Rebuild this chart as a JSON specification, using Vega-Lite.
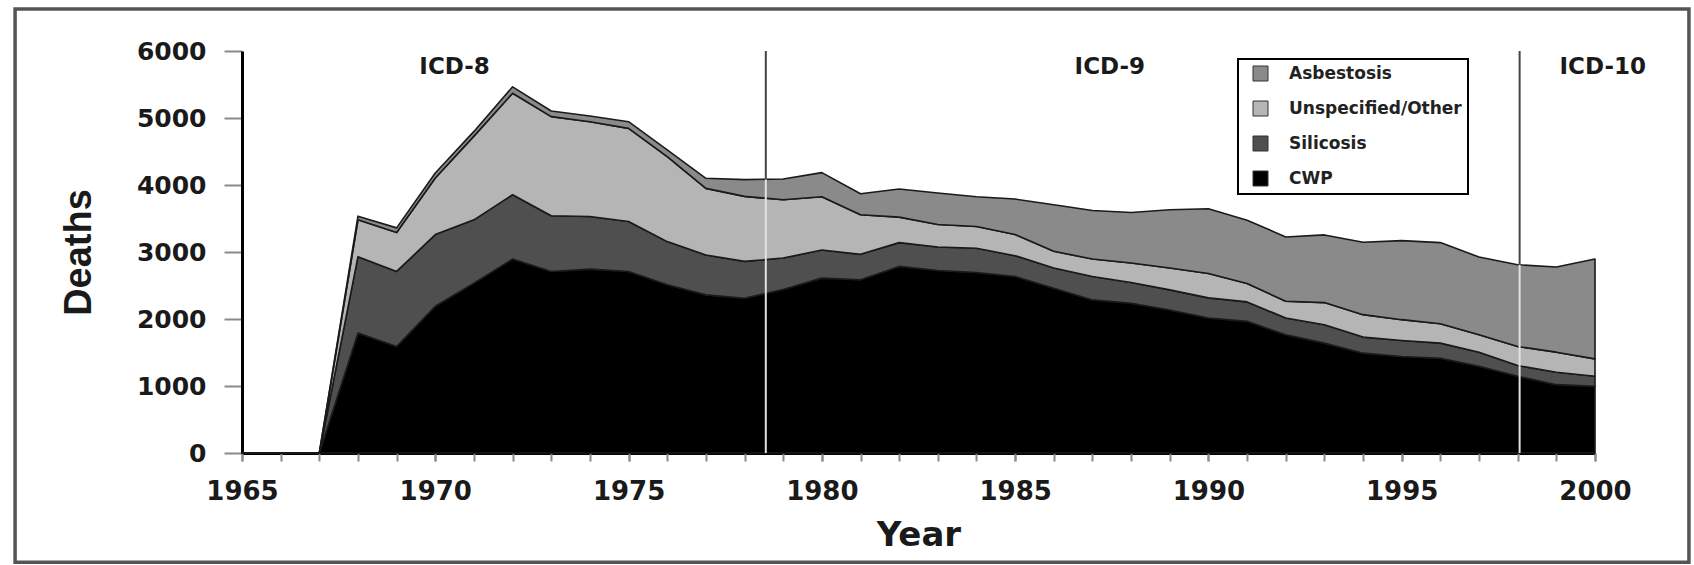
{
  "$schema": "https://vega.github.io/schema/vega-lite/v6.json",
  "width": 1353,
  "height": 402,
  "autosize": {"type": "none"},
  "padding": {"left": 242, "top": 51, "right": 99, "bottom": 112},
  "background": "#ffffff",
  "config": {
    "view": {"stroke": null},
    "font": "DejaVu Sans",
    "legend": {"strokeWidth": 2}
  },
  "resolve": {"axis": {"x": "independent"}},
  "datasets": {
    "series": [
      {"disease": "CWP", "rank": 1},
      {"disease": "Silicosis", "rank": 2},
      {"disease": "Unspecified/Other", "rank": 3},
      {"disease": "Asbestosis", "rank": 4}
    ],
    "deaths": [
      {"year": 1965, "disease": "CWP", "deaths": 0}, {"year": 1965, "disease": "Silicosis", "deaths": 0}, {"year": 1965, "disease": "Unspecified/Other", "deaths": 0}, {"year": 1965, "disease": "Asbestosis", "deaths": 0},
      {"year": 1966, "disease": "CWP", "deaths": 0}, {"year": 1966, "disease": "Silicosis", "deaths": 0}, {"year": 1966, "disease": "Unspecified/Other", "deaths": 0}, {"year": 1966, "disease": "Asbestosis", "deaths": 0},
      {"year": 1967, "disease": "CWP", "deaths": 0}, {"year": 1967, "disease": "Silicosis", "deaths": 0}, {"year": 1967, "disease": "Unspecified/Other", "deaths": 0}, {"year": 1967, "disease": "Asbestosis", "deaths": 0},
      {"year": 1968, "disease": "CWP", "deaths": 1790}, {"year": 1968, "disease": "Silicosis", "deaths": 1140}, {"year": 1968, "disease": "Unspecified/Other", "deaths": 550}, {"year": 1968, "disease": "Asbestosis", "deaths": 55},
      {"year": 1969, "disease": "CWP", "deaths": 1590}, {"year": 1969, "disease": "Silicosis", "deaths": 1120}, {"year": 1969, "disease": "Unspecified/Other", "deaths": 580}, {"year": 1969, "disease": "Asbestosis", "deaths": 70},
      {"year": 1970, "disease": "CWP", "deaths": 2190}, {"year": 1970, "disease": "Silicosis", "deaths": 1070}, {"year": 1970, "disease": "Unspecified/Other", "deaths": 845}, {"year": 1970, "disease": "Asbestosis", "deaths": 75},
      {"year": 1971, "disease": "CWP", "deaths": 2535}, {"year": 1971, "disease": "Silicosis", "deaths": 945}, {"year": 1971, "disease": "Unspecified/Other", "deaths": 1250}, {"year": 1971, "disease": "Asbestosis", "deaths": 70},
      {"year": 1972, "disease": "CWP", "deaths": 2895}, {"year": 1972, "disease": "Silicosis", "deaths": 960}, {"year": 1972, "disease": "Unspecified/Other", "deaths": 1515}, {"year": 1972, "disease": "Asbestosis", "deaths": 95},
      {"year": 1973, "disease": "CWP", "deaths": 2710}, {"year": 1973, "disease": "Silicosis", "deaths": 830}, {"year": 1973, "disease": "Unspecified/Other", "deaths": 1480}, {"year": 1973, "disease": "Asbestosis", "deaths": 85},
      {"year": 1974, "disease": "CWP", "deaths": 2745}, {"year": 1974, "disease": "Silicosis", "deaths": 785}, {"year": 1974, "disease": "Unspecified/Other", "deaths": 1415}, {"year": 1974, "disease": "Asbestosis", "deaths": 85},
      {"year": 1975, "disease": "CWP", "deaths": 2710}, {"year": 1975, "disease": "Silicosis", "deaths": 745}, {"year": 1975, "disease": "Unspecified/Other", "deaths": 1390}, {"year": 1975, "disease": "Asbestosis", "deaths": 100},
      {"year": 1976, "disease": "CWP", "deaths": 2510}, {"year": 1976, "disease": "Silicosis", "deaths": 645}, {"year": 1976, "disease": "Unspecified/Other", "deaths": 1270}, {"year": 1976, "disease": "Asbestosis", "deaths": 100},
      {"year": 1977, "disease": "CWP", "deaths": 2360}, {"year": 1977, "disease": "Silicosis", "deaths": 595}, {"year": 1977, "disease": "Unspecified/Other", "deaths": 995}, {"year": 1977, "disease": "Asbestosis", "deaths": 150},
      {"year": 1978, "disease": "CWP", "deaths": 2310}, {"year": 1978, "disease": "Silicosis", "deaths": 550}, {"year": 1978, "disease": "Unspecified/Other", "deaths": 970}, {"year": 1978, "disease": "Asbestosis", "deaths": 250},
      {"year": 1979, "disease": "CWP", "deaths": 2440}, {"year": 1979, "disease": "Silicosis", "deaths": 470}, {"year": 1979, "disease": "Unspecified/Other", "deaths": 870}, {"year": 1979, "disease": "Asbestosis", "deaths": 310},
      {"year": 1980, "disease": "CWP", "deaths": 2610}, {"year": 1980, "disease": "Silicosis", "deaths": 420}, {"year": 1980, "disease": "Unspecified/Other", "deaths": 795}, {"year": 1980, "disease": "Asbestosis", "deaths": 360},
      {"year": 1981, "disease": "CWP", "deaths": 2585}, {"year": 1981, "disease": "Silicosis", "deaths": 380}, {"year": 1981, "disease": "Unspecified/Other", "deaths": 590}, {"year": 1981, "disease": "Asbestosis", "deaths": 315},
      {"year": 1982, "disease": "CWP", "deaths": 2785}, {"year": 1982, "disease": "Silicosis", "deaths": 355}, {"year": 1982, "disease": "Unspecified/Other", "deaths": 380}, {"year": 1982, "disease": "Asbestosis", "deaths": 420},
      {"year": 1983, "disease": "CWP", "deaths": 2725}, {"year": 1983, "disease": "Silicosis", "deaths": 350}, {"year": 1983, "disease": "Unspecified/Other", "deaths": 335}, {"year": 1983, "disease": "Asbestosis", "deaths": 470},
      {"year": 1984, "disease": "CWP", "deaths": 2695}, {"year": 1984, "disease": "Silicosis", "deaths": 360}, {"year": 1984, "disease": "Unspecified/Other", "deaths": 325}, {"year": 1984, "disease": "Asbestosis", "deaths": 445},
      {"year": 1985, "disease": "CWP", "deaths": 2635}, {"year": 1985, "disease": "Silicosis", "deaths": 310}, {"year": 1985, "disease": "Unspecified/Other", "deaths": 315}, {"year": 1985, "disease": "Asbestosis", "deaths": 530},
      {"year": 1986, "disease": "CWP", "deaths": 2460}, {"year": 1986, "disease": "Silicosis", "deaths": 300}, {"year": 1986, "disease": "Unspecified/Other", "deaths": 250}, {"year": 1986, "disease": "Asbestosis", "deaths": 695},
      {"year": 1987, "disease": "CWP", "deaths": 2285}, {"year": 1987, "disease": "Silicosis", "deaths": 350}, {"year": 1987, "disease": "Unspecified/Other", "deaths": 260}, {"year": 1987, "disease": "Asbestosis", "deaths": 725},
      {"year": 1988, "disease": "CWP", "deaths": 2235}, {"year": 1988, "disease": "Silicosis", "deaths": 310}, {"year": 1988, "disease": "Unspecified/Other", "deaths": 290}, {"year": 1988, "disease": "Asbestosis", "deaths": 755},
      {"year": 1989, "disease": "CWP", "deaths": 2135}, {"year": 1989, "disease": "Silicosis", "deaths": 300}, {"year": 1989, "disease": "Unspecified/Other", "deaths": 325}, {"year": 1989, "disease": "Asbestosis", "deaths": 870},
      {"year": 1990, "disease": "CWP", "deaths": 2015}, {"year": 1990, "disease": "Silicosis", "deaths": 300}, {"year": 1990, "disease": "Unspecified/Other", "deaths": 365}, {"year": 1990, "disease": "Asbestosis", "deaths": 965},
      {"year": 1991, "disease": "CWP", "deaths": 1965}, {"year": 1991, "disease": "Silicosis", "deaths": 290}, {"year": 1991, "disease": "Unspecified/Other", "deaths": 275}, {"year": 1991, "disease": "Asbestosis", "deaths": 945},
      {"year": 1992, "disease": "CWP", "deaths": 1765}, {"year": 1992, "disease": "Silicosis", "deaths": 250}, {"year": 1992, "disease": "Unspecified/Other", "deaths": 250}, {"year": 1992, "disease": "Asbestosis", "deaths": 960},
      {"year": 1993, "disease": "CWP", "deaths": 1640}, {"year": 1993, "disease": "Silicosis", "deaths": 275}, {"year": 1993, "disease": "Unspecified/Other", "deaths": 330}, {"year": 1993, "disease": "Asbestosis", "deaths": 1010},
      {"year": 1994, "disease": "CWP", "deaths": 1490}, {"year": 1994, "disease": "Silicosis", "deaths": 240}, {"year": 1994, "disease": "Unspecified/Other", "deaths": 335}, {"year": 1994, "disease": "Asbestosis", "deaths": 1080},
      {"year": 1995, "disease": "CWP", "deaths": 1440}, {"year": 1995, "disease": "Silicosis", "deaths": 240}, {"year": 1995, "disease": "Unspecified/Other", "deaths": 310}, {"year": 1995, "disease": "Asbestosis", "deaths": 1180},
      {"year": 1996, "disease": "CWP", "deaths": 1415}, {"year": 1996, "disease": "Silicosis", "deaths": 225}, {"year": 1996, "disease": "Unspecified/Other", "deaths": 290}, {"year": 1996, "disease": "Asbestosis", "deaths": 1210},
      {"year": 1997, "disease": "CWP", "deaths": 1295}, {"year": 1997, "disease": "Silicosis", "deaths": 210}, {"year": 1997, "disease": "Unspecified/Other", "deaths": 260}, {"year": 1997, "disease": "Asbestosis", "deaths": 1160},
      {"year": 1998, "disease": "CWP", "deaths": 1145}, {"year": 1998, "disease": "Silicosis", "deaths": 160}, {"year": 1998, "disease": "Unspecified/Other", "deaths": 285}, {"year": 1998, "disease": "Asbestosis", "deaths": 1220},
      {"year": 1999, "disease": "CWP", "deaths": 1020}, {"year": 1999, "disease": "Silicosis", "deaths": 185}, {"year": 1999, "disease": "Unspecified/Other", "deaths": 300}, {"year": 1999, "disease": "Asbestosis", "deaths": 1270},
      {"year": 2000, "disease": "CWP", "deaths": 995}, {"year": 2000, "disease": "Silicosis", "deaths": 150}, {"year": 2000, "disease": "Unspecified/Other", "deaths": 260}, {"year": 2000, "disease": "Asbestosis", "deaths": 1490}
    ],
    "revisions": [
      {"at": 1978.55, "top": 4083},
      {"at": 1998.05, "top": 2807}
    ],
    "eras": [
      {"era": "ICD-8", "mid": 1970.5},
      {"era": "ICD-9", "mid": 1987.45},
      {"era": "ICD-10", "mid": 2000.2}
    ]
  },
  "layer": [
    {
      "data": {"name": "deaths"},
      "transform": [
        {"lookup": "disease", "from": {"data": {"name": "series"}, "key": "disease", "fields": ["rank"]}}
      ],
      "mark": {"type": "area", "interpolate": "linear", "stroke": "#1a1a1a", "strokeWidth": 1.6, "strokeJoin": "round"},
      "encoding": {
        "x": {
          "field": "year", "type": "quantitative",
          "scale": {"domain": [1965, 2000], "nice": false, "zero": false},
          "axis": {
            "orient": "bottom",
            "title": "Year",
            "values": [1965, 1970, 1975, 1980, 1985, 1990, 1995, 2000],
            "format": "d",
            "labelFlush": false,
            "labelOverlap": false,
            "labelFont": "DejaVu Sans",
            "labelFontWeight": "bold",
            "labelFontSize": 26,
            "labelColor": "#1a1a1a",
            "labelPadding": 17,
            "tickSize": 8,
            "tickWidth": 2,
            "tickColor": "#8a8a8a",
            "domainColor": "#000000",
            "domainWidth": 3,
            "grid": false,
            "titleFont": "DejaVu Sans",
            "titleFontWeight": "bold",
            "titleFontSize": 34,
            "titleColor": "#1a1a1a",
            "titlePadding": 14
          }
        },
        "y": {
          "field": "deaths", "type": "quantitative", "stack": "zero",
          "scale": {"domain": [0, 6000], "nice": false},
          "axis": {
            "title": "Deaths",
            "values": [0, 1000, 2000, 3000, 4000, 5000, 6000],
            "format": "d",
            "labelFont": "DejaVu Sans",
            "labelFontWeight": "bold",
            "labelFontSize": 25,
            "labelColor": "#1a1a1a",
            "labelPadding": 18,
            "tickSize": 18,
            "tickWidth": 2,
            "tickColor": "#8a8a8a",
            "domainColor": "#000000",
            "domainWidth": 3,
            "grid": false,
            "titleFont": "Liberation Sans Narrow, Liberation Sans, Arial",
            "titleFontWeight": "bold",
            "titleFontSize": 38,
            "titleColor": "#1a1a1a",
            "titlePadding": 38
          }
        },
        "color": {
          "field": "disease", "type": "nominal",
          "scale": {
            "domain": ["Asbestosis", "Unspecified/Other", "Silicosis", "CWP"],
            "range": ["#8a8a8a", "#b5b5b5", "#4f4f4f", "#000000"]
          },
          "legend": {
            "title": null,
            "orient": "none",
            "legendX": 996,
            "legendY": 8,
            "direction": "vertical",
            "symbolType": "square",
            "symbolSize": 225,
            "symbolStrokeColor": "#333333",
            "symbolStrokeWidth": 1,
            "symbolOffset": 8,
            "labelFont": "DejaVu Sans",
            "labelFontWeight": "bold",
            "labelFontSize": 17,
            "labelColor": "#222222",
            "labelLimit": 400,
            "labelOffset": 20,
            "rowPadding": 16,
            "padding": 6,
            "strokeColor": "#000000",
            "fillColor": "#ffffff"
          }
        },
        "order": {"field": "rank", "type": "quantitative"}
      }
    },
    {
      "data": {"values": [{}]},
      "mark": {"type": "rect", "fill": null, "stroke": "#555555", "strokeWidth": 3.5},
      "encoding": {
        "x": {"datum": 1959.13, "type": "quantitative", "axis": null},
        "x2": {"datum": 2002.43},
        "y": {"datum": 6627, "type": "quantitative"},
        "y2": {"datum": -1630}
      }
    },
    {
      "data": {"name": "revisions"},
      "mark": {"type": "rule", "color": "#444444", "strokeWidth": 2},
      "encoding": {
        "x": {
          "field": "at", "type": "quantitative",
          "axis": {
            "orient": "bottom",
            "title": null,
            "values": [1965, 1966, 1967, 1968, 1969, 1970, 1971, 1972, 1973, 1974, 1975, 1976, 1977, 1978, 1979, 1980, 1981, 1982, 1983, 1984, 1985, 1986, 1987, 1988, 1989, 1990, 1991, 1992, 1993, 1994, 1995, 1996, 1997, 1998, 1999, 2000],
            "labels": false,
            "domain": false,
            "grid": false,
            "ticks": true,
            "tickSize": 8,
            "tickWidth": 2,
            "tickColor": "#8a8a8a"
          }
        },
        "y": {"field": "top", "type": "quantitative"},
        "y2": {"datum": 6000}
      }
    },
    {
      "data": {"name": "revisions"},
      "mark": {"type": "rule", "color": "#e2e2e2", "strokeWidth": 2},
      "encoding": {
        "x": {"field": "at", "type": "quantitative", "axis": null},
        "y": {"field": "top", "type": "quantitative"},
        "y2": {"datum": 0}
      }
    },
    {
      "data": {"name": "eras"},
      "mark": {"type": "text", "font": "DejaVu Sans", "fontWeight": "bold", "fontSize": 23, "color": "#1a1a1a", "align": "center", "baseline": "middle"},
      "encoding": {
        "x": {"field": "mid", "type": "quantitative", "axis": null},
        "y": {"datum": 5760, "type": "quantitative"},
        "text": {"field": "era", "type": "nominal"}
      }
    }
  ]
}
